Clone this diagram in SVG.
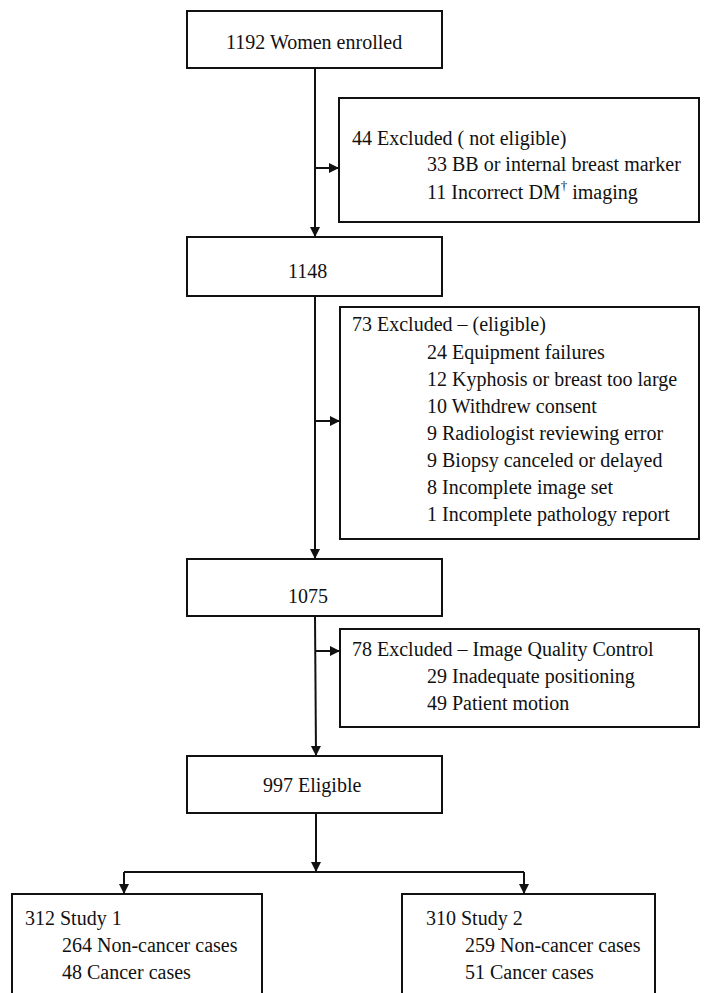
<svg xmlns="http://www.w3.org/2000/svg" width="704" height="993" viewBox="0 0 704 993">
<style>
  .box { fill: #fff; stroke: #111; stroke-width: 2; }
  .ln { fill: none; stroke: #111; stroke-width: 2; }
  text { font-family: "Liberation Serif", "Times New Roman", serif; font-size: 20px; fill: #111; }
</style>
<defs>
  <marker id="ah" markerUnits="userSpaceOnUse" markerWidth="11" markerHeight="11" refX="10" refY="5" orient="auto">
    <path d="M0,0 L10,5 L0,10 z" fill="#111"/>
  </marker>
</defs>
<rect width="704" height="993" fill="#fff"/>
<g id="connectors">
  <line class="ln" x1="315" y1="68" x2="315" y2="237" marker-end="url(#ah)"/>
  <line class="ln" x1="315" y1="168" x2="339" y2="168" marker-end="url(#ah)"/>
  <line class="ln" x1="315" y1="296" x2="315" y2="559" marker-end="url(#ah)"/>
  <line class="ln" x1="315" y1="421" x2="340" y2="421" marker-end="url(#ah)"/>
  <line class="ln" x1="315" y1="616" x2="316" y2="756" marker-end="url(#ah)"/>
  <line class="ln" x1="315" y1="651" x2="340" y2="651" marker-end="url(#ah)"/>
  <line class="ln" x1="316" y1="813" x2="316" y2="872" marker-end="url(#ah)"/>
  <line class="ln" x1="124" y1="872" x2="524" y2="872"/>
  <line class="ln" x1="124" y1="872" x2="124" y2="894" marker-end="url(#ah)"/>
  <line class="ln" x1="524" y1="872" x2="524" y2="894" marker-end="url(#ah)"/>
</g>
<g id="enrolled">
  <rect class="box" x="187" y="11" width="255" height="57"/>
  <text x="226" y="49">1192 Women enrolled</text>
</g>
<g id="excluded1">
  <rect class="box" x="339" y="98" width="360" height="124"/>
  <text x="352" y="145">44 Excluded ( not eligible)</text>
  <text x="427" y="171">33 BB or internal breast marker</text>
  <text x="427" y="199">11 Incorrect DM<tspan font-size="13" dy="-9">†</tspan><tspan dy="9"> imaging</tspan></text>
</g>
<g id="n1148">
  <rect class="box" x="187" y="237" width="255" height="59"/>
  <text x="288" y="278">1148</text>
</g>
<g id="excluded2">
  <rect class="box" x="340" y="307" width="359" height="232"/>
  <text x="352" y="331">73 Excluded – (eligible)</text>
  <text x="427" y="359">24 Equipment failures</text>
  <text x="427" y="386">12 Kyphosis or breast too large</text>
  <text x="427" y="413">10 Withdrew consent</text>
  <text x="427" y="440">9 Radiologist reviewing error</text>
  <text x="427" y="467">9 Biopsy canceled or delayed</text>
  <text x="427" y="494">8 Incomplete image set</text>
  <text x="427" y="521">1 Incomplete pathology report</text>
</g>
<g id="n1075">
  <rect class="box" x="187" y="559" width="255" height="57"/>
  <text x="288" y="603">1075</text>
</g>
<g id="excluded3">
  <rect class="box" x="340" y="629" width="359" height="98"/>
  <text x="352" y="656">78 Excluded – Image Quality Control</text>
  <text x="427" y="683">29 Inadequate positioning</text>
  <text x="427" y="710">49 Patient motion</text>
</g>
<g id="eligible">
  <rect class="box" x="187" y="756" width="255" height="57"/>
  <text x="263" y="792">997 Eligible</text>
</g>
<g id="study1">
  <rect class="box" x="12" y="894" width="250" height="120"/>
  <text x="25" y="925">312 Study 1</text>
  <text x="62" y="952">264 Non-cancer cases</text>
  <text x="62" y="979">48 Cancer cases</text>
</g>
<g id="study2">
  <rect class="box" x="402" y="894" width="253" height="120"/>
  <text x="426" y="925">310 Study 2</text>
  <text x="465" y="952">259 Non-cancer cases</text>
  <text x="465" y="979">51 Cancer cases</text>
</g>
</svg>
